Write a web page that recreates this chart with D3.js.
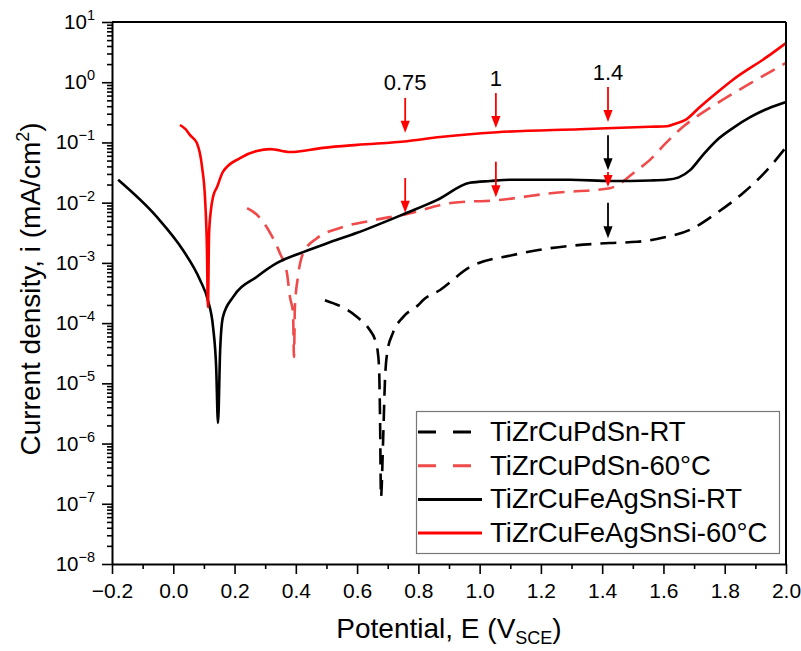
<!DOCTYPE html>
<html><head><meta charset="utf-8">
<script src="https://cdn.jsdelivr.net/npm/d3@7"></script>
<style>
body{margin:0;background:#fff}
svg{display:block}
text{font-family:"Liberation Sans", Arial, sans-serif; fill:#000}
</style>
</head><body>
<svg id="chart" width="801" height="651"></svg>
<script>
// ---------------- data (E in V_SCE, i in mA/cm^2) ----------------
const seriesNames = ["TiZrCuPdSn-RT", "TiZrCuPdSn-60°C", "TiZrCuFeAgSnSi-RT", "TiZrCuFeAgSnSi-60°C"];

const pdSnRT_E = [0.495, 0.600, 0.642, 0.659, 0.668, 0.672, 0.675, 0.678, 0.685, 0.691, 0.698, 0.717, 0.750, 0.800, 0.815, 0.871, 0.968, 1.109, 1.187, 1.425, 1.514, 1.600, 1.687, 1.775, 1.860, 1.938, 2.000];
const pdSnRT_i = [2.4e-4, 1.26e-4, 7.6e-5, 5.2e-5, 3.16e-5, 1.66e-5, 2.45e-6, 1.29e-7, 1.15e-6, 1.12e-5, 3.16e-5, 6.9e-5, 1.26e-4, 2.0e-4, 2.4e-4, 3.55e-4, 8.5e-4, 1.35e-3, 1.62e-3, 2.14e-3, 2.24e-3, 2.63e-3, 3.55e-3, 6.8e-3, 1.45e-2, 3.47e-2, 8.3e-2];

const pdSn60_E = [0.241, 0.273, 0.316, 0.348, 0.371, 0.381, 0.391, 0.394, 0.397, 0.407, 0.424, 0.469, 0.544, 0.652, 0.763, 0.913, 1.057, 1.240, 1.425, 1.514, 1.556, 1.610, 1.664, 1.720, 1.775, 1.883, 2.000];
const pdSn60_i = [8.1e-3, 6.3e-3, 3.16e-3, 1.45e-3, 6.8e-4, 2.7e-4, 1.45e-4, 2.75e-5, 1.86e-4, 5.9e-4, 1.45e-3, 2.57e-3, 3.8e-3, 5.1e-3, 6.5e-3, 1.0e-2, 1.1e-2, 1.45e-2, 1.74e-2, 3.47e-2, 5.13e-2, 0.100, 0.182, 0.295, 0.447, 0.955, 2.09];

const feAgRT_E = [-0.180, -0.053, 0.032, 0.087, 0.113, 0.130, 0.140, 0.146, 0.153, 0.162, 0.195, 0.273, 0.339, 0.424, 0.500, 0.600, 0.763, 0.860, 0.968, 1.034, 1.100, 1.295, 1.430, 1.556, 1.610, 1.650, 1.687, 1.730, 1.775, 1.830, 1.883, 1.940, 2.000];
const feAgRT_i = [2.4e-2, 5.75e-3, 1.62e-3, 5.25e-4, 2.4e-4, 8.5e-5, 1.86e-5, 2.2e-6, 3.55e-5, 1.26e-4, 2.7e-4, 5.9e-4, 1.0e-3, 1.51e-3, 2.1e-3, 3.16e-3, 6.8e-3, 1.1e-2, 2.14e-2, 2.29e-2, 2.4e-2, 2.4e-2, 2.29e-2, 2.34e-2, 2.4e-2, 2.63e-2, 3.47e-2, 6.3e-2, 0.110, 0.178, 0.263, 0.363, 0.468];

const feAg60_E = [0.022, 0.040, 0.055, 0.077, 0.094, 0.104, 0.110, 0.113, 0.117, 0.123, 0.130, 0.143, 0.162, 0.218, 0.273, 0.316, 0.381, 0.489, 0.600, 0.763, 0.871, 1.057, 1.328, 1.556, 1.612, 1.643, 1.670, 1.719, 1.775, 1.827, 1.938, 2.000];
const feAg60_i = [0.195, 0.166, 0.132, 0.0977, 0.0389, 0.011, 1.62e-3, 1.86e-4, 3.16e-3, 7.6e-3, 1.26e-2, 1.82e-2, 3.24e-2, 5.5e-2, 7.24e-2, 7.76e-2, 6.92e-2, 8.13e-2, 9.12e-2, 0.105, 0.123, 0.148, 0.166, 0.182, 0.186, 0.209, 0.234, 0.389, 0.676, 1.10, 2.63, 4.47];

// arrows (E, from i, to i) and labels
const arrowE    = [0.757, 1.053, 1.419, 0.757, 1.053, 1.419, 1.419, 1.419];
const arrowFrom = [0.55, 0.66, 0.83, 0.0257, 0.0479, 0.132, 0.0324, 0.0100];
const arrowTo   = [0.145, 0.174, 0.219, 6.8e-3, 1.23e-2, 3.47e-2, 1.82e-2, 2.57e-3];
const arrowIsRed = [true, true, true, true, true, false, true, false];
const labelText = ["0.75", "1", "1.4"];
const labelE    = [0.757, 1.053, 1.419];
const labelI    = [1.0, 1.17, 1.48];

const xMajorTicks = [-0.2, 0.0, 0.2, 0.4, 0.6, 0.8, 1.0, 1.2, 1.4, 1.6, 1.8, 2.0];
const yDecadeExponents = [-8, -7, -6, -5, -4, -3, -2, -1, 0, 1];

// ---------------- layout ----------------
const svg = d3.select("#chart");
const L = 112, R = 786, T = 22, B = 564;
const x = d3.scaleLinear().domain([-0.2, 2.0]).range([L, R]);
const y = d3.scaleLog().domain([1e-8, 10]).range([B, T]);

const RED = "#ff0000", RED_D = "#f04a4a", BLACK = "#000";

// curves
const line = d3.line().x(d => x(d[0])).y(d => y(d[1])).curve(d3.curveMonotoneX);
const series = [
  {E: pdSnRT_E, I: pdSnRT_i, color: BLACK, dash: "16,9"},
  {E: pdSn60_E, I: pdSn60_i, color: RED_D, dash: "16,9"},
  {E: feAgRT_E, I: feAgRT_i, color: BLACK, dash: null},
  {E: feAg60_E, I: feAg60_i, color: RED, dash: null}
];
series.forEach(s => {
  svg.append("path")
    .datum(s.E.map((e, k) => [e, s.I[k]]))
    .attr("d", line)
    .attr("fill", "none")
    .attr("stroke", s.color)
    .attr("stroke-width", 2.6)
    .attr("stroke-linejoin", "round")
    .attr("stroke-dasharray", s.dash);
});

// axes
const xMinor = d3.range(-0.1, 2.0, 0.2);
const gx = svg.append("g").attr("transform", `translate(0,${B})`);
gx.call(d3.axisBottom(x).tickValues(xMajorTicks).tickSize(10).tickSizeOuter(0)
  .tickFormat(d3.format(".1f")).tickPadding(9));
gx.append("g").call(d3.axisBottom(x).tickValues(xMinor).tickSize(5).tickSizeOuter(0).tickFormat(""))
  .select(".domain").remove();
gx.selectAll("text").attr("font-size", 21).attr("font-family", "Liberation Sans, Arial, sans-serif").attr("fill", "#000");

const yMajor = yDecadeExponents.map(p => Math.pow(10, p));
const yMinor = [];
yDecadeExponents.slice(0, -1).forEach(p => { for (let k = 2; k <= 9; k++) yMinor.push(k * Math.pow(10, p)); });
const gy = svg.append("g").attr("transform", `translate(${L},0)`);
gy.call(d3.axisLeft(y).tickValues(yMajor).tickSize(10).tickSizeOuter(0).tickFormat(""));
gy.append("g").call(d3.axisLeft(y).tickValues(yMinor).tickSize(5).tickSizeOuter(0).tickFormat(""))
  .select(".domain").remove();
svg.selectAll(".domain").attr("stroke-width", 2);
svg.selectAll(".tick line").attr("stroke-width", 1.6);

// y tick labels 10^n
yDecadeExponents.forEach(p => {
  const t = svg.append("text").attr("x", L - 17).attr("y", y(Math.pow(10, p)) + 7)
    .attr("text-anchor", "end").attr("font-size", 20.5);
  t.append("tspan").text("10");
  t.append("tspan").attr("font-size", 14.5).attr("dy", -9).text(p < 0 ? "\u2212" + (-p) : String(p));
});

// frame top and right
svg.append("line").attr("x1", L).attr("x2", R).attr("y1", T).attr("y2", T).attr("stroke", "#000").attr("stroke-width", 2);
svg.append("line").attr("x1", R).attr("x2", R).attr("y1", T).attr("y2", B).attr("stroke", "#000").attr("stroke-width", 2);

// axis titles
const xt = svg.append("text").attr("x", (L + R) / 2).attr("y", 638).attr("text-anchor", "middle").attr("font-size", 28);
xt.append("tspan").text("Potential, E (V");
xt.append("tspan").attr("font-size", 18).attr("dy", 6).text("SCE");
xt.append("tspan").attr("dy", -6).text(")");

const yt = svg.append("text").attr("transform", "translate(40,289) rotate(-90)").attr("text-anchor", "middle").attr("font-size", 28);
yt.append("tspan").text("Current density, i (mA/cm");
yt.append("tspan").attr("font-size", 18).attr("dy", -11).text("2");
yt.append("tspan").attr("dy", 11).text(")");

// arrows
arrowE.forEach((e, k) => {
  const c = arrowIsRed[k] ? RED : BLACK;
  const px = x(e), y1 = y(arrowFrom[k]), y2 = y(arrowTo[k]);
  const hl = 12, hw = 4.6;
  svg.append("line").attr("x1", px).attr("x2", px).attr("y1", y1).attr("y2", y2 - hl + 1)
    .attr("stroke", c).attr("stroke-width", 1.8);
  svg.append("path").attr("d", `M${px - hw},${y2 - hl} L${px + hw},${y2 - hl} L${px},${y2} Z`).attr("fill", c);
});
labelText.forEach((s, k) => {
  svg.append("text").attr("x", x(labelE[k])).attr("y", y(labelI[k]))
    .attr("dy", "0.36em").attr("text-anchor", "middle").attr("font-size", 22).text(s);
});

// legend
const lg = svg.append("g");
lg.append("rect").attr("x", 416.5).attr("y", 411.5).attr("width", 363).attr("height", 142)
  .attr("fill", "#fff").attr("stroke", "#777").attr("stroke-width", 1.2);
const legendStyle = [
  {color: BLACK, dash: "18,17"}, {color: RED_D, dash: "18,17"}, {color: BLACK, dash: null}, {color: RED, dash: null}
];
seriesNames.forEach((nm, k) => {
  const cy = 432 + k * 33.7;
  lg.append("line").attr("x1", 418).attr("x2", 482).attr("y1", cy).attr("y2", cy)
    .attr("stroke", legendStyle[k].color).attr("stroke-width", 3).attr("stroke-dasharray", legendStyle[k].dash);
  lg.append("text").attr("x", 490).attr("y", cy + 9).attr("font-size", 27.5).text(nm);
});
</script>
</body></html>
